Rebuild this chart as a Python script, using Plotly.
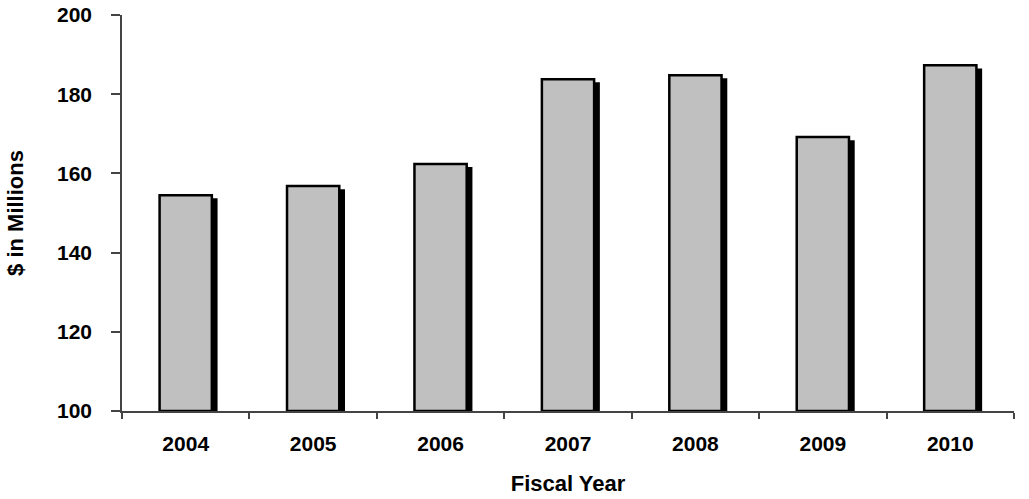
import plotly.graph_objects as go

years = ["2004", "2005", "2006", "2007", "2008", "2009", "2010"]
values = [154.5, 156.8, 162.4, 183.8, 184.8, 169.2, 187.3]
y_ticks = [100, 120, 140, 160, 180, 200]

BAR_W = 0.41
SHADOW_DX = 0.045   # category units
SHADOW_DY = 0.8     # value units

fig = go.Figure()
fig.add_trace(go.Bar(
    x=years, y=[v - 100 - SHADOW_DY for v in values], base=[100] * len(values),
    width=BAR_W, offset=-BAR_W / 2 + SHADOW_DX,
    marker=dict(color="black", line=dict(width=0)),
    hoverinfo="skip", showlegend=False,
))
fig.add_trace(go.Bar(
    x=years, y=[v - 100 for v in values], base=[100] * len(values),
    width=BAR_W, offset=-BAR_W / 2,
    marker=dict(color="#C0C0C0", line=dict(color="black", width=2.5)),
    showlegend=False,
))

font_family = "Liberation Sans, Arial, sans-serif"
fig.update_layout(
    barmode="overlay",
    width=1029, height=499,
    margin=dict(l=122, r=15, t=15, b=88, autoexpand=False),
    plot_bgcolor="white", paper_bgcolor="white",
    font=dict(family=font_family, color="black"),
    xaxis=dict(
        type="category", showline=True, linecolor="#444", linewidth=1.5,
        ticks="outside", tickson="boundaries", ticklen=6, tickcolor="#444", tickwidth=1.5,
        tickfont=dict(size=21, family=font_family, weight="bold"),
        ticklabelstandoff=13, ticklabeloverflow="allow",
        title=dict(text="<b>Fiscal Year</b>", font=dict(size=22), standoff=22),
        showgrid=False, automargin=False,
    ),
    yaxis=dict(
        range=[100, 200], tickvals=y_ticks, showline=True, linecolor="#444", linewidth=1.5,
        ticks="outside", ticklen=9, tickcolor="#444", tickwidth=1.5,
        tickfont=dict(size=21, family=font_family, weight="bold"),
        ticklabelstandoff=15, ticklabeloverflow="allow",
        title=dict(text="<b>$ in Millions</b>", font=dict(size=22), standoff=27),
        showgrid=False, zeroline=False, automargin=False,
    ),
)

fig.write_html("out.html", config={"displayModeBar": False},
               post_script="document.body.style.margin='0px';")
